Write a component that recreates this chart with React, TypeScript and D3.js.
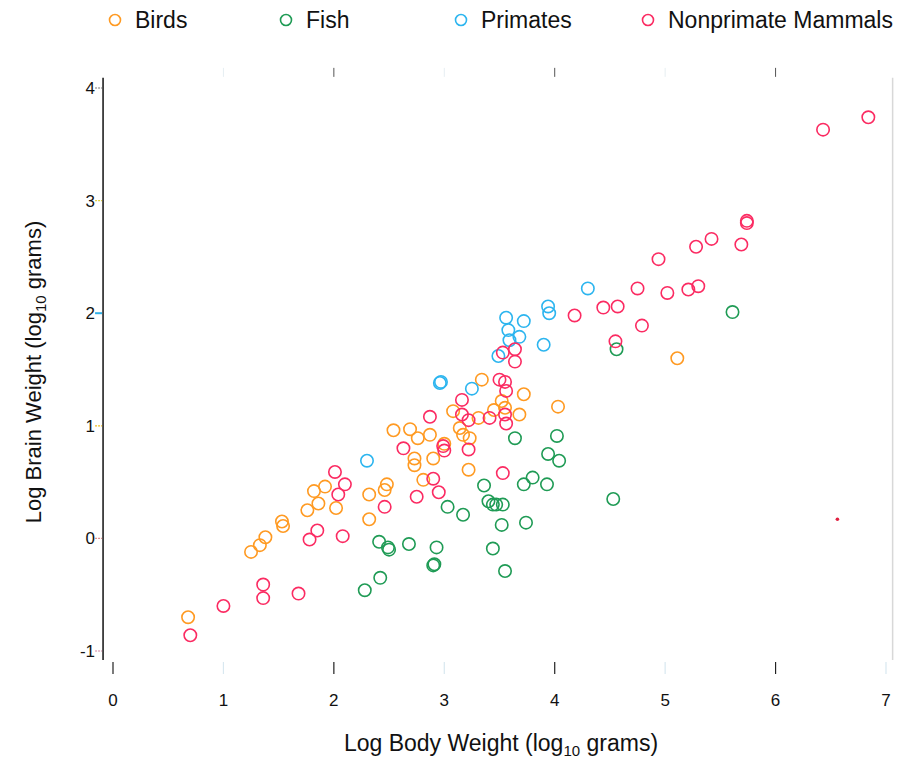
import React, { useEffect, useRef } from 'react';
import * as d3 from 'd3';

// [log10 body weight, log10 brain weight]
const birds: [number, number][] = [
  [0.68, -0.7], [1.25, -0.12], [1.33, -0.06], [1.38, 0.01], [1.53, 0.15], [1.54, 0.11],
  [1.76, 0.25], [1.82, 0.42], [1.86, 0.31], [1.92, 0.46], [2.02, 0.27], [2.32, 0.17],
  [2.32, 0.39], [2.46, 0.43], [2.48, 0.48], [2.54, 0.96], [2.69, 0.97], [2.76, 0.89],
  [2.73, 0.71], [2.73, 0.65], [2.81, 0.52], [2.87, 0.92], [2.9, 0.71], [3.0, 0.84],
  [3.08, 1.13], [3.14, 0.98], [3.17, 0.92], [3.23, 0.89], [3.22, 0.61], [3.31, 1.07],
  [3.34, 1.41], [3.45, 1.14], [3.52, 1.22], [3.55, 1.16], [3.68, 1.1], [3.72, 1.28],
  [4.03, 1.17], [5.11, 1.6],
];

const fish: [number, number][] = [
  [2.28, -0.46], [2.42, -0.35], [2.41, -0.03], [2.49, -0.08], [2.5, -0.1], [2.68, -0.05],
  [2.93, -0.08], [2.91, -0.23], [2.9, -0.24], [3.03, 0.28], [3.17, 0.21], [3.36, 0.47],
  [3.4, 0.33], [3.44, 0.3], [3.47, 0.3], [3.53, 0.3], [3.52, 0.12], [3.44, -0.09],
  [3.55, -0.29], [3.64, 0.89], [3.72, 0.48], [3.74, 0.14], [3.8, 0.54], [3.93, 0.48],
  [3.94, 0.75], [4.04, 0.69], [4.02, 0.91], [4.53, 0.35], [4.56, 1.68], [5.61, 2.01],
];

const primates: [number, number][] = [
  [2.3, 0.69], [2.96, 1.38], [2.97, 1.39], [3.25, 1.33], [3.49, 1.62], [3.56, 1.96],
  [3.58, 1.85], [3.59, 1.76], [3.68, 1.79], [3.72, 1.93], [3.9, 1.72], [3.94, 2.06],
  [3.95, 2.0], [4.3, 2.22],
];

const mammals: [number, number][] = [
  [0.7, -0.86], [1.0, -0.6], [1.36, -0.41], [1.36, -0.53], [1.68, -0.49], [1.78, -0.01],
  [1.85, 0.07], [2.01, 0.59], [2.04, 0.39], [2.1, 0.48], [2.08, 0.02], [2.46, 0.28],
  [2.63, 0.8], [2.75, 0.37], [2.87, 1.08], [2.9, 0.53], [2.95, 0.41], [2.99, 0.82],
  [3.0, 0.78], [3.16, 1.23], [3.16, 1.1], [3.22, 1.05], [3.22, 0.79], [3.41, 1.07],
  [3.5, 1.41], [3.55, 1.39], [3.56, 1.31], [3.55, 1.1], [3.56, 1.02], [3.53, 0.58],
  [3.53, 1.65], [3.64, 1.68], [3.64, 1.57], [4.18, 1.98], [4.44, 2.05], [4.57, 2.06],
  [4.55, 1.75], [4.75, 2.22], [4.79, 1.89], [4.94, 2.48], [5.02, 2.18], [5.21, 2.21],
  [5.3, 2.24], [5.28, 2.59], [5.42, 2.66], [5.69, 2.61], [5.74, 2.8], [5.74, 2.82],
  [6.43, 3.63], [6.84, 3.74],
];

// stray dot in the scan
const strayDots: [number, number][] = [[6.56, 0.17]];

const groups = ['Birds', 'Fish', 'Primates', 'Nonprimate Mammals'];
const groupColors = ['#ff9a22', '#1f9b55', '#2cb5ef', '#fb2b62'];
const groupData = [birds, fish, primates, mammals];

const xTicks = [0, 1, 2, 3, 4, 5, 6, 7];
const yTicks = [-1, 0, 1, 2, 3, 4];

const App = () => {
  const svgRef = useRef<SVGSVGElement>(null);
  const width = 898;
  const height = 758;

  useEffect(() => {
    if (!svgRef.current) return;
    const svg = d3.select(svgRef.current);
    svg.selectAll('*').remove();

    const x = d3.scaleLinear().domain([0, 7]).range([113, 886]);
    const y = d3.scaleLinear().domain([-1, 4]).range([651, 88]);

    const left = x(-0.09);
    const right = x(7.06);
    const top = y(4.09);
    const bottom = y(-1.08);

    const font = 'Liberation Sans, Arial, Helvetica, sans-serif';

    // gradients for the scanned-looking frame
    const defs = svg.append('defs');
    const bottomGrad = defs.append('linearGradient').attr('id', 'bottomGrad');
    [
      ['0', '#38c0e8'], ['0.08', '#2e5bd6'], ['0.2', '#222'], ['0.32', '#c33'],
      ['0.38', '#f09030'], ['0.45', '#f0d040'], ['0.5', '#40c0e0'], ['0.6', '#2a50d0'],
      ['0.7', '#333'], ['0.78', '#d03030'], ['0.84', '#f0a040'], ['0.9', '#60c0e0'],
      ['0.95', '#a080c0'], ['1', '#40c0e0'],
    ].forEach(([o, c]) => bottomGrad.append('stop').attr('offset', o).attr('stop-color', c));
    const topGrad = defs.append('linearGradient').attr('id', 'topGrad');
    [
      ['0', '#f0b040'], ['0.05', '#3ab8e8'], ['0.5', '#2aa8e8'], ['0.85', '#44bce8'],
      ['0.95', '#f0c060'], ['1', '#40c0e8'],
    ].forEach(([o, c]) => topGrad.append('stop').attr('offset', o).attr('stop-color', c));

    // frame
    svg.append('line')
      .attr('x1', right).attr('x2', right).attr('y1', top).attr('y2', bottom)
      .attr('stroke', '#d8d8d8').attr('stroke-width', 1.5);
    svg.append('line')
      .attr('x1', left).attr('x2', left).attr('y1', top).attr('y2', bottom)
      .attr('stroke', '#111').attr('stroke-width', 1.5);
    svg.append('line')
      .attr('x1', left).attr('x2', right).attr('y1', top).attr('y2', top)
      .attr('stroke', 'url(#topGrad)').attr('stroke-width', 2.5);
    svg.append('line')
      .attr('x1', left).attr('x2', right).attr('y1', bottom).attr('y2', bottom)
      .attr('stroke', 'url(#bottomGrad)').attr('stroke-width', 3);

    // x ticks
    svg.selectAll('.x-tick')
      .data(xTicks)
      .enter()
      .append('line')
      .attr('x1', d => x(d)).attr('x2', d => x(d))
      .attr('y1', bottom + 2).attr('y2', bottom + 14)
      .attr('stroke', d => (d % 2 === 0 ? '#222' : '#d8e8f0'))
      .attr('stroke-width', 1.2);
    svg.selectAll('.x-tick-top')
      .data(xTicks.filter(d => d > 0 && d < 7))
      .enter()
      .append('line')
      .attr('x1', d => x(d)).attr('x2', d => x(d))
      .attr('y1', top - 10).attr('y2', top - 1)
      .attr('stroke', d => (d % 2 === 0 ? '#555' : '#e6eef2'))
      .attr('stroke-width', 1);
    svg.selectAll('.x-label')
      .data(xTicks)
      .enter()
      .append('text')
      .attr('x', d => x(d))
      .attr('y', 706)
      .attr('text-anchor', 'middle')
      .attr('font-family', font)
      .attr('font-size', 17)
      .attr('fill', '#111')
      .text(d => d);

    // y ticks
    const yTickColors = ['#d080a0', '#e09090', '#f0c020', '#30b0e8', '#e0d040', '#777'];
    svg.selectAll('.y-tick')
      .data(yTicks)
      .enter()
      .append('line')
      .attr('x1', left - 8).attr('x2', left - 1)
      .attr('y1', d => y(d)).attr('y2', d => y(d))
      .attr('stroke', (_, i) => yTickColors[i])
      .attr('stroke-width', (_, i) => (i === 3 ? 2 : 1.2))
      .attr('stroke-dasharray', (_, i) => (i === 3 ? null : '2,1'));
    svg.selectAll('.y-label')
      .data(yTicks)
      .enter()
      .append('text')
      .attr('x', left - 8)
      .attr('y', d => y(d))
      .attr('dy', '0.35em')
      .attr('text-anchor', 'end')
      .attr('font-family', font)
      .attr('font-size', 17)
      .attr('fill', '#111')
      .text(d => d);

    // points
    groupData.forEach((data, gi) => {
      svg.append('g')
        .selectAll('circle')
        .data(data)
        .enter()
        .append('circle')
        .attr('cx', d => x(d[0]))
        .attr('cy', d => y(d[1]))
        .attr('r', 6.2)
        .attr('fill', 'none')
        .attr('stroke', groupColors[gi])
        .attr('stroke-width', 1.6);
    });

    svg.selectAll('.stray')
      .data(strayDots)
      .enter()
      .append('circle')
      .attr('cx', d => x(d[0]))
      .attr('cy', d => y(d[1]))
      .attr('r', 1.8)
      .attr('fill', '#e02040');

    // legend
    const legendX = [115, 286, 461, 648];
    const legend = svg.append('g');
    groups.forEach((name, i) => {
      legend.append('circle')
        .attr('cx', legendX[i]).attr('cy', 20).attr('r', 5.5)
        .attr('fill', 'none').attr('stroke', groupColors[i]).attr('stroke-width', 1.6);
      legend.append('text')
        .attr('x', legendX[i] + 20).attr('y', 28)
        .attr('font-family', font).attr('font-size', 23).attr('fill', '#111')
        .text(name);
    });

    // axis titles
    const xTitle = svg.append('text')
      .attr('x', 501).attr('y', 751)
      .attr('text-anchor', 'middle')
      .attr('font-family', font).attr('font-size', 23).attr('fill', '#111');
    xTitle.append('tspan').text('Log Body Weight (log');
    xTitle.append('tspan').attr('font-size', 15).attr('dy', 5).text('10');
    xTitle.append('tspan').attr('dy', -5).text(' grams)');

    const yTitle = svg.append('text')
      .attr('transform', 'translate(41,372) rotate(-90)')
      .attr('text-anchor', 'middle')
      .attr('font-family', font).attr('font-size', 22).attr('fill', '#111');
    yTitle.append('tspan').text('Log Brain Weight (log');
    yTitle.append('tspan').attr('font-size', 15).attr('dy', 5).text('10');
    yTitle.append('tspan').attr('dy', -5).text(' grams)');
  }, []);

  return (
    <div>
      <svg
        ref={svgRef}
        width={width}
        height={height}
        style={{ position: 'absolute', left: 0, top: 0, background: '#fff' }}
      ></svg>
    </div>
  );
};

export default App;
